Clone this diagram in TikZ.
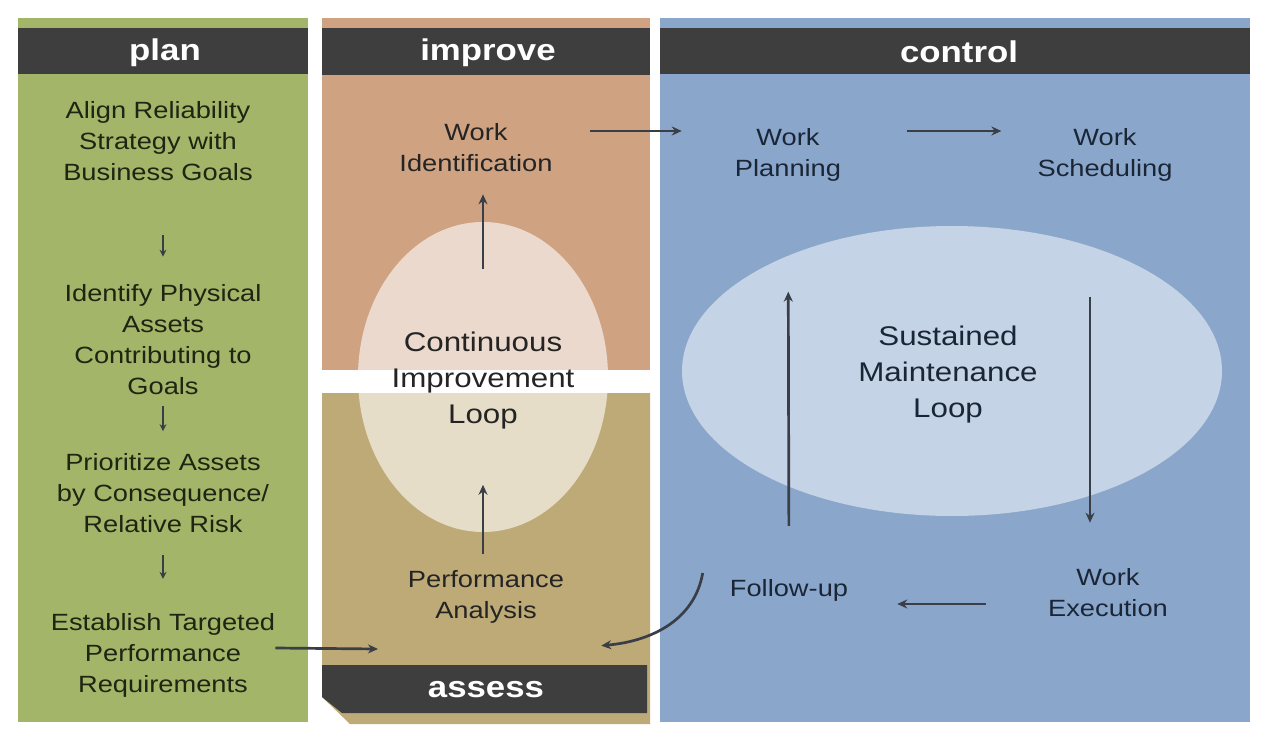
\documentclass[tikz,border=0pt]{standalone}
\usepackage{fontspec}
\setmainfont{Liberation Sans}[FakeStretch=1.16]
\usetikzlibrary{calc}
\usetikzlibrary{arrows.meta}
\usetikzlibrary{shapes.geometric}

\definecolor{plangreen}{HTML}{A3B568}
\definecolor{improvetan}{HTML}{CFA282}
\definecolor{assesskhaki}{HTML}{BEAA76}
\definecolor{controlblue}{HTML}{8AA7CB}
\definecolor{bargray}{HTML}{3E3E3E}
\definecolor{arrowgray}{HTML}{3A3E46}
\definecolor{plantext}{HTML}{1E2512}
\definecolor{darktext}{HTML}{242424}
\definecolor{ctrltext}{HTML}{1A2636}

\begin{document}
\begin{tikzpicture}[x=1pt,y=-1pt,
  txt/.style={align=center,inner sep=0pt,font=\fontsize{23.5}{31}\selectfont},
  looptxt/.style={align=center,inner sep=0pt,font=\fontsize{27}{36}\selectfont},
  head/.style={text=white,inner sep=0pt,font=\bfseries\fontsize{30}{30}\selectfont},
  loopshape/.style={ellipse,fill=white,inner sep=0pt},
  arr/.style={draw=arrowgray,line width=2.7pt,-{Stealth[length=10pt,width=9pt]}},
  small/.style={draw=arrowgray,line width=2pt,-{Stealth[length=7pt,width=7pt]}}]

\useasboundingbox (0,0) rectangle (1268,738);
\fill[white] (0,0) rectangle (1268,738);

% panels
\fill[plangreen] (18,18) rectangle (308,722);
\fill[improvetan] (322,18) rectangle (650,370);
\fill[assesskhaki] (322,393) -- (650,393) -- (650,724) -- (350,724) -- (322,697) -- cycle;
\fill[controlblue] (660,18) rectangle (1250,722);

% header bars
\fill[bargray] (18,28) rectangle (308,74);
\fill[bargray] (322,28) rectangle (650,75);
\fill[bargray] (660,28) rectangle (1250,74);
\fill[bargray] (322,665) -- (647,665) -- (647,713) -- (342,713) -- (322,697) -- cycle;

\node[head] (planh) at (165,53) {plan};
\node[head] (improveh) at (488,53) {improve};
\node[head] (controlh) at (959,52) {control};
\node[head] (assessh) at (486,690) {assess};

% loops
\node[loopshape,fill opacity=0.6,minimum width=250,minimum height=310] (cie) at (483,377) {};
\node[loopshape,fill opacity=0.5,minimum width=540,minimum height=290] (sme) at (952,371) {};
\node[looptxt,text=darktext] (cil) at (483,381) {Continuous\\Improvement\\Loop};
\node[looptxt,text=ctrltext] (sml) at (948,375) {Sustained\\Maintenance\\Loop};

% plan column
\node[txt,text=plantext] (align) at (158,141) {Align Reliability\\Strategy with\\Business Goals};
\node[txt,text=plantext] (ident) at (163,340) {Identify Physical\\Assets\\Contributing to\\Goals};
\node[txt,text=plantext] (prio) at (163,493) {Prioritize Assets\\by Consequence/\\Relative Risk};
\node[txt,text=plantext] (est) at (163,655) {Establish Targeted\\Performance\\Requirements};

\draw[small,shorten <=54,shorten >=28] (align.south -| ident.north) -- (ident.north);
\draw[small,shorten <=11,shorten >=22] (ident.south) -- (prio.north);
\draw[small,shorten <=22,shorten >=34] (prio.south) -- (est.north);

% improve / assess
\node[txt,text=darktext] (wid) at (476,148) {Work\\Identification};
\node[txt,text=darktext] (pa) at (486,597) {Performance\\Analysis};
\coordinate (assessin) at (378,649);
\coordinate (back) at ($(pa.south east)+(37,22)$);

\draw[arr] ([yshift=7pt]est.east) -- (assessin);
\draw[arr,shorten <=16,shorten >=55] (pa.north -| cil.south) -- (cil.south);
\draw[arr,shorten <=63,shorten >=22] (cil.north) -- (wid.south -| cil.north);

% control
\node[txt,text=ctrltext] (wpl) at (788,155) {Work\\Planning};
\node[txt,text=ctrltext] (wsc) at (1105,155) {Work\\Scheduling};
\node[txt,text=ctrltext] (wex) at (1108,593) {Work\\Execution};
\node[txt,text=ctrltext] (fu) at (789,590) {Follow-up};

\draw[arr,shorten <=37,shorten >=53] ([yshift=17pt]wid.east) -- ([yshift=24pt]wpl.west);
\draw[arr,shorten <=66,shorten >=36] ([yshift=24pt]wpl.east) -- ([yshift=24pt]wsc.west);
\draw[arr,shorten <=115,shorten >=46] ([xshift=-15pt]wsc.south) -- ([xshift=-18pt]wex.north);
\draw[arr,shorten <=62,shorten >=49] ([yshift=-11pt]wex.west) -- ([yshift=-14pt]fu.east);
\draw[arr,shorten <=53,shorten >=110] (fu.north) -- (wpl.south);
\draw[arr] ([xshift=-27pt,yshift=17pt]fu.west) to[out=-100,in=5] (back);

\end{tikzpicture}
\end{document}
